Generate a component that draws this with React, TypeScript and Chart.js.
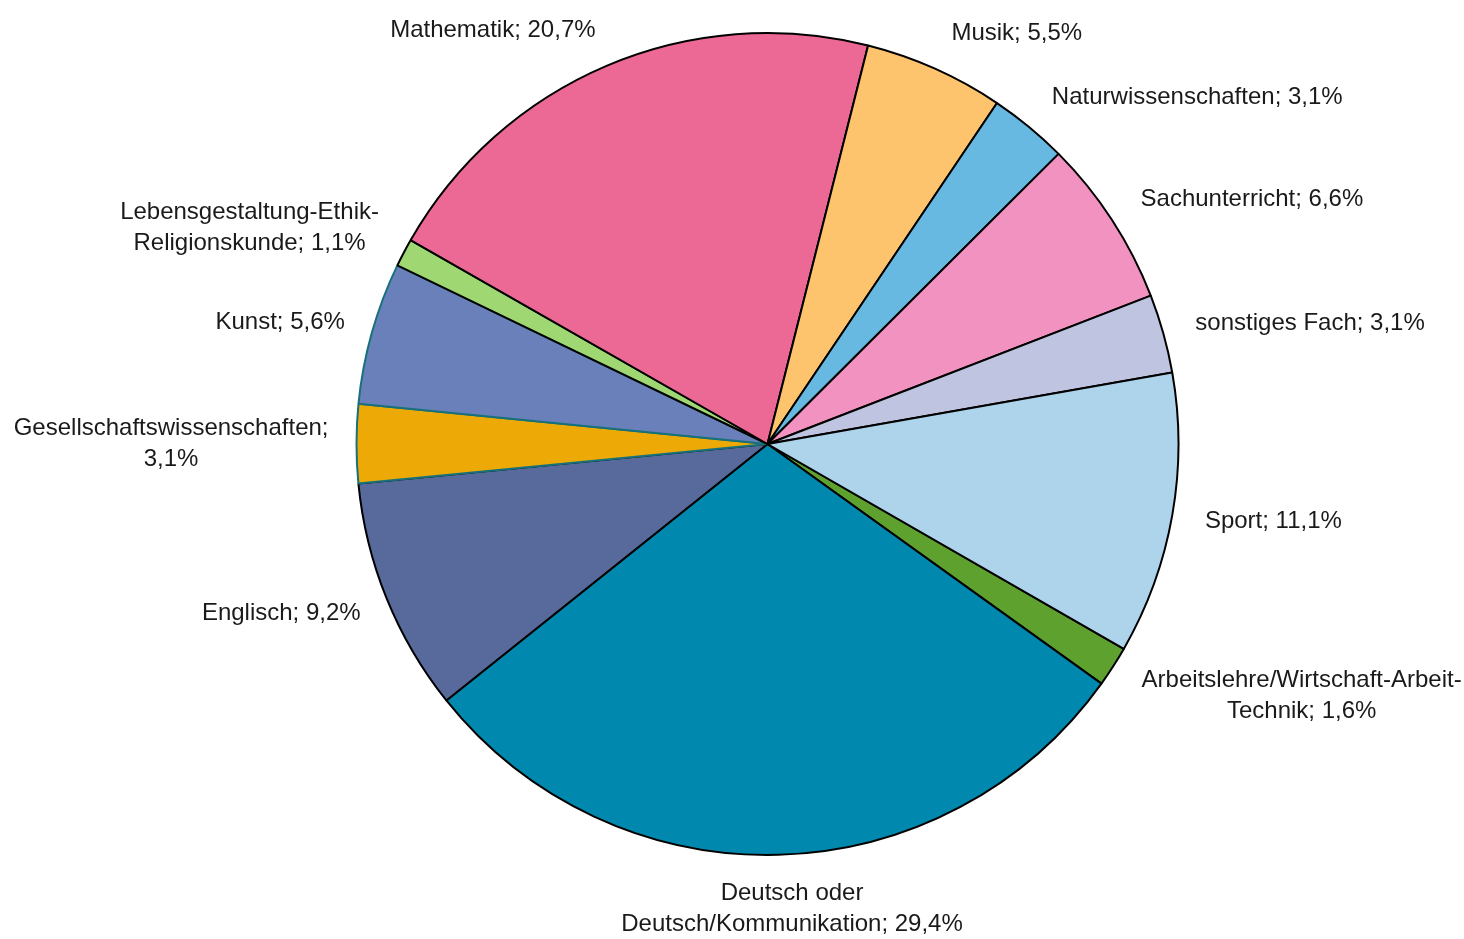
import React, { useEffect, useRef } from "react";
import { Chart, registerables } from "chart.js";

Chart.register(...registerables);

const categories = [
  "Arbeitslehre/Wirtschaft-Arbeit-Technik",
  "Deutsch oder Deutsch/Kommunikation",
  "Englisch",
  "Gesellschaftswissenschaften",
  "Kunst",
  "Lebensgestaltung-Ethik-Religionskunde",
  "Mathematik",
  "Musik",
  "Naturwissenschaften",
  "Sachunterricht",
  "sonstiges Fach",
  "Sport",
];

const shares = [1.6, 29.4, 9.2, 3.1, 5.6, 1.1, 20.7, 5.5, 3.1, 6.6, 3.1, 11.1];

const sliceColors = [
  "#5ea12f",
  "#0088ae",
  "#586a9b",
  "#edaa07",
  "#6a80bb",
  "#9fd872",
  "#ec6995",
  "#fdc46d",
  "#68b9e1",
  "#f292c0",
  "#bfc5e1",
  "#aed4ec",
];

const sliceBorders = [
  "#000000",
  "#000000",
  "#000000",
  "#17707a",
  "#17707a",
  "#000000",
  "#000000",
  "#000000",
  "#000000",
  "#000000",
  "#000000",
  "#000000",
];

const FONT = '24px "Liberation Sans", Arial, sans-serif';
const LINE_H = 31;
const LABEL_GAP = 28;
const WRAP_W = 360;
const RIGHT_NUDGE = 5;

function fmt(v: number) {
  return v.toFixed(1).replace(".", ",") + "%";
}

function wrap(ctx: CanvasRenderingContext2D, text: string, maxW: number) {
  const tokens: string[] = [];
  let cur = "";
  for (const ch of text) {
    cur += ch;
    if (ch === " " || ch === "-") {
      tokens.push(cur);
      cur = "";
    }
  }
  if (cur) tokens.push(cur);
  const lines: string[] = [];
  let line = "";
  for (const t of tokens) {
    const test = line + t;
    if (line && ctx.measureText(test.trimEnd()).width > maxW) {
      lines.push(line.trimEnd());
      line = t;
    } else {
      line = test;
    }
  }
  if (line) lines.push(line.trimEnd());
  return lines;
}

const labelPlugin = {
  id: "outsideLabels",
  afterDraw(chart: any) {
    const ctx: CanvasRenderingContext2D = chart.ctx;
    const meta = chart.getDatasetMeta(0);
    ctx.save();
    ctx.font = FONT;
    ctx.fillStyle = "#1a1a1a";
    ctx.textAlign = "center";
    ctx.textBaseline = "middle";
    meta.data.forEach((arc: any, i: number) => {
      const { x, y, startAngle, endAngle, outerRadius } = arc.getProps(
        ["x", "y", "startAngle", "endAngle", "outerRadius"],
        true
      );
      const mid = (startAngle + endAngle) / 2;
      const dx = Math.cos(mid);
      const dy = Math.sin(mid);
      const r = outerRadius + LABEL_GAP;
      const px = x + r * dx;
      const py = y + r * dy;
      const text = categories[i] + "; " + fmt(shares[i]);
      const lines = wrap(ctx, text, WRAP_W);
      const w = Math.max(...lines.map((l) => ctx.measureText(l).width));
      const h = lines.length * LINE_H - 10;
      const fx = Math.max(-1, Math.min(1, dx * 3));
      const cx = px + (w / 2) * fx + (dx > 0.3 ? RIGHT_NUDGE : 0);
      const cy = py + (h / 2) * dy;
      lines.forEach((l, k) => {
        ctx.fillText(l, cx, cy - ((lines.length - 1) * LINE_H) / 2 + k * LINE_H);
      });
    });
    ctx.restore();
  },
};

export default function App() {
  const ref = useRef<HTMLCanvasElement | null>(null);
  useEffect(() => {
    if (!ref.current) return;
    const chart = new Chart(ref.current, {
      type: "pie",
      data: {
        labels: categories,
        datasets: [
          {
            data: shares,
            backgroundColor: sliceColors,
            borderColor: sliceBorders,
            borderWidth: 2,
          },
        ],
      },
      options: {
        animation: false,
        responsive: true,
        maintainAspectRatio: false,
        rotation: 119.9,
        radius: 411,
        layout: { padding: { left: 71, right: 0, top: 0, bottom: 51 } },
        plugins: {
          legend: { display: false },
          tooltip: { enabled: false },
        },
      },
      plugins: [labelPlugin],
    });
    return () => chart.destroy();
  }, []);
  return (
    <div style={{ position: "fixed", left: 0, top: 0, width: 1464, height: 939 }}>
      <canvas ref={ref} />
    </div>
  );
}
